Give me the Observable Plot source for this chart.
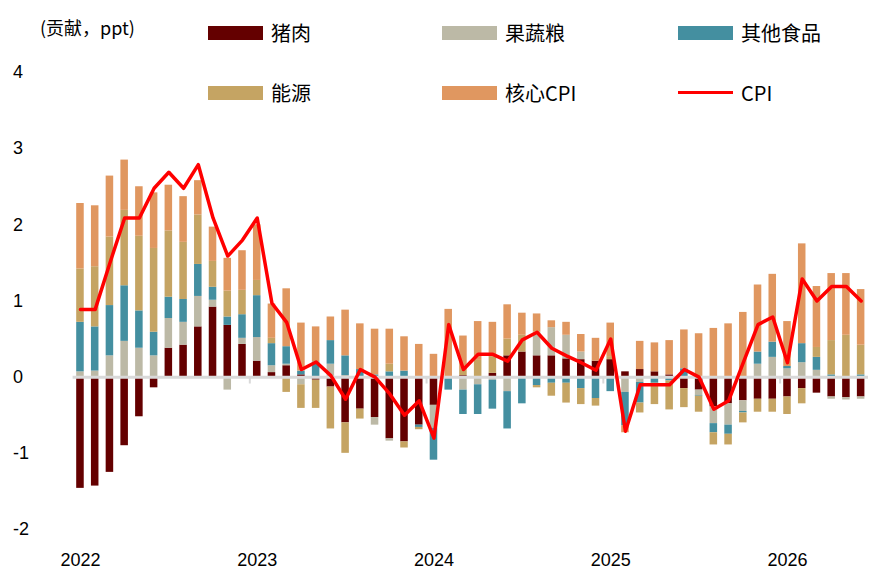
<!DOCTYPE html>
<html><head><meta charset="utf-8">
<script src="https://cdn.jsdelivr.net/npm/d3@7"></script>
<script src="https://cdn.jsdelivr.net/npm/@observablehq/plot@0.6"></script>
<style>
body{margin:0;background:#fff;font-family:"Noto Sans CJK SC","Liberation Sans",sans-serif;}
#wrap{position:relative;width:888px;height:588px;}
.lg{position:absolute;font-size:20px;color:#000;display:flex;align-items:center;}
.sw{display:inline-block;width:55px;height:14px;margin-right:8px;}
.ln{display:inline-block;width:55px;height:3px;background:#ff0000;margin-right:8px;}
#ylab{position:absolute;left:40px;top:14px;font-size:18px;}
</style></head><body>
<div id="wrap"><div id="chart"></div></div>
<script>
const seriesNames = ["猪肉","果蔬粮","其他食品","能源","核心CPI"];
const colors = ["#640000","#bcb9a6","#448fa0","#c5a463","#e09760"];
const years = ["2022","2023","2024","2025","2026"];
const pork   = [-1.46,-1.43,-1.25,-0.90,-0.52,-0.14,0.38,0.42,0.66,0.92,0.68,0.43,0.21,0.06,0.15,0.03,-0.04,-0.13,-0.60,-0.42,-0.53,-0.81,-0.85,-0.63,-0.37,0,0.02,0,0.05,0.28,0.33,0.28,0.28,0.24,0.23,0.21,0.23,0.07,0.10,0.07,0.03,-0.15,-0.17,-0.39,-0.35,-0.31,-0.29,-0.29,-0.26,-0.15,-0.21,-0.26,-0.27,-0.26];
const fvg    = [0.07,0.08,0.28,0.47,0.38,0.28,0.39,0.30,0.40,0.09,-0.17,0.08,0.31,0.09,0.02,-0.10,0,0.17,0.02,0,-0.10,-0.03,0,0,-0.30,0,-0.17,-0.10,-0.04,-0.19,0,0.31,0.37,0.31,0.10,0,0,-0.20,-0.07,0,0,0,-0.07,-0.22,-0.28,-0.14,0.17,0.26,0.11,0.19,0.09,-0.03,-0.03,-0.03];
const other  = [0.65,0.58,0.66,0.73,0.49,0.31,0.28,0.30,0.42,0.17,0.11,0.31,0.55,0.29,0.23,0.05,0.20,0.31,0.26,0.10,0.03,0.07,0.08,-0.03,-0.42,-0.17,-0.32,-0.39,-0.38,-0.49,-0.35,-0.11,-0.08,-0.08,-0.15,-0.28,-0.19,-0.44,-0.27,-0.08,-0.05,0.11,-0.01,-0.12,-0.12,-0.02,0.16,0.20,0.03,0.25,0.17,0.03,0,0.03];
const energy = [0.70,0.79,0.90,0.99,0.98,1.10,0.87,0.75,0.65,0.34,0.34,0.32,0.20,0.07,-0.20,-0.31,-0.37,-0.55,-0.40,-0.13,0,0.10,-0.08,-0.03,0,0,0.08,0.22,0.22,0.22,0.22,-0.03,-0.17,-0.26,-0.21,-0.10,0.04,0,-0.13,-0.28,-0.38,-0.25,-0.21,-0.16,-0.14,-0.13,-0.17,-0.17,-0.23,-0.20,0.13,0.45,0.55,0.39];
const core   = [0.86,0.80,0.80,0.66,0.65,0.73,0.60,0.60,0.45,0.45,0.43,0.52,0.73,0.45,0.76,0.63,0.46,0.31,0.60,0.60,0.60,0.46,0.45,0.43,0.30,0.89,0.44,0.51,0.45,0.45,0.29,0.24,0.09,0.17,0.23,0.30,0.44,-0.09,0.37,0.38,0.45,0.51,0.57,0.64,0.70,0.85,0.88,0.89,0.59,1.31,0.80,0.88,0.81,0.73];
const cpi    = [0.89,0.89,1.50,2.09,2.09,2.48,2.69,2.48,2.79,2.09,1.59,1.80,2.09,0.97,0.72,0.10,0.20,0.02,-0.29,0.10,0.00,-0.22,-0.50,-0.31,-0.80,0.69,0.10,0.30,0.30,0.21,0.49,0.59,0.38,0.28,0.19,0.09,0.50,-0.71,-0.10,-0.10,-0.10,0.10,0.00,-0.42,-0.31,0.19,0.69,0.79,0.19,1.29,1.00,1.19,1.19,1.00];

const months = [];
years.forEach(y => { for (let m = 1; m <= 12; m++) months.push(`${y}-${String(m).padStart(2,"0")}`); });
const mth = months.slice(0, cpi.length);
const cols = [pork, fvg, other, energy, core];
const bars = [];
cols.forEach((arr, s) => arr.forEach((v, i) => bars.push({month: mth[i], series: seriesNames[s], value: v})));
const line = cpi.map((v, i) => ({month: mth[i], value: v}));
const janTicks = years.map(y => `${y}-01`);

const chart = Plot.plot({
  width: 888, height: 588,
  marginLeft: 72.6, marginRight: 20, marginTop: 72, marginBottom: 59,
  style: {fontFamily: "Liberation Sans, Arial, sans-serif", fontSize: "18px", background: "transparent"},
  x: {type: "band", domain: mth, padding: 0, axis: null},
  y: {domain: [-2, 4], axis: null},
  color: {domain: seriesNames, range: colors},
  marks: [
    Plot.axisY({ticks: [-2,-1,0,1,2,3,4], tickSize: 0, tickPadding: 24, label: null, tickFormat: d => d < 0 ? "-" + Math.abs(d) : d, fontSize: 18, textAnchor: "start", dx: -36}),
    Plot.barY(bars, Plot.stackY({x: "month", y: "value", fill: "series", insetLeft: 3.6, insetRight: 3.6, order: seriesNames})),
    Plot.ruleY([0], {stroke: "#d9d9d9", strokeWidth: 3}),
    Plot.ruleX(janTicks.slice(1), {x: d => d, y1: 0, y2: -0.09, stroke: "#d9d9d9", strokeWidth: 2, dx: -7.4}),
    Plot.axisX({ticks: janTicks, tickSize: 0, tickPadding: 24, label: null, tickFormat: d => d.slice(0,4), fontSize: 18}),
    Plot.line(line, {x: "month", y: "value", stroke: "#ff0000", strokeWidth: 3.5, curve: "linear"})
  ]
});
document.getElementById("chart").appendChild(chart);

const wrap = document.getElementById("wrap");
const yl = document.createElement("div"); yl.id = "ylab"; yl.textContent = "(贡献，ppt)"; wrap.appendChild(yl);
const legendPos = [[208,18],[442,18],[678,18],[208,78],[442,78],[678,78]];
seriesNames.concat(["CPI"]).forEach((n, i) => {
  const d = document.createElement("div"); d.className = "lg";
  d.style.left = legendPos[i][0] + "px"; d.style.top = legendPos[i][1] + "px";
  const s = document.createElement("span");
  if (i < 5) { s.className = "sw"; s.style.background = colors[i]; } else s.className = "ln";
  d.appendChild(s); d.appendChild(document.createTextNode(n)); wrap.appendChild(d);
});
</script></body></html>
